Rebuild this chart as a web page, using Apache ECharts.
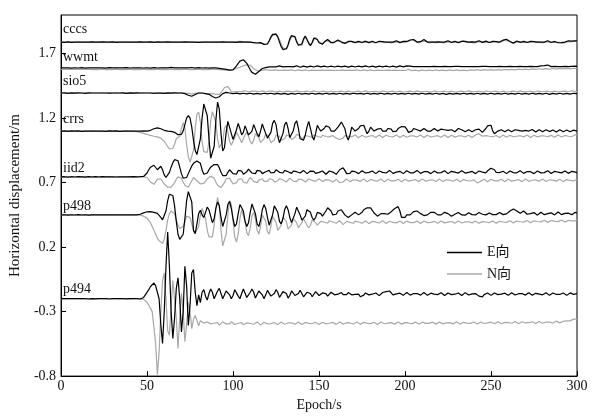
<!DOCTYPE html>
<html><head><meta charset="utf-8">
<script src="https://cdn.jsdelivr.net/npm/echarts@6/dist/echarts.min.js"></script>
<style>html,body{margin:0;padding:0;background:#fff}#c{width:599px;height:417px}</style>
</head><body><div id="c"></div>
<script>
const stationNames = ['cccs','wwmt','sio5','crrs','iid2','p498','p494'];
const legendNames = ['E向','N向'];
const xTicks = [0,50,100,150,200,250,300];
const yTicks = [-0.8,-0.3,0.2,0.7,1.2,1.7];

const cccsE = [
1.79,1.79,1.788,1.79,1.792,1.79,1.788,1.79,1.79,1.792,
1.79,1.788,1.79,1.791,1.79,1.789,1.79,1.79,1.792,1.79,
1.79,1.788,1.79,1.79,1.791,1.79,1.789,1.79,1.79,1.79,
1.791,1.79,1.788,1.79,1.79,1.792,1.79,1.789,1.79,1.79,
1.79,1.791,1.79,1.788,1.79,1.79,1.792,1.79,1.79,1.789,
1.79,1.79,1.792,1.79,1.788,1.79,1.791,1.79,1.79,1.788,
1.79,1.79,1.792,1.79,1.789,1.79,1.79,1.791,1.79,1.788,
1.79,1.79,1.792,1.79,1.79,1.789,1.79,1.791,1.79,1.79,
1.788,1.79,1.79,1.792,1.79,1.79,1.789,1.79,1.79,1.791,
1.79,1.788,1.79,1.79,1.792,1.79,1.789,1.79,1.79,1.791,
1.79,1.79,1.788,1.79,1.792,1.79,1.79,1.789,1.79,1.79,
1.789,1.788,1.786,1.784,1.783,1.782,1.786,1.78,1.772,1.765,
1.775,1.8,1.83,1.85,1.858,1.852,1.83,1.79,1.755,1.732,
1.725,1.738,1.77,1.815,1.84,1.847,1.83,1.79,1.765,1.756,
1.775,1.815,1.837,1.81,1.78,1.763,1.785,1.822,1.832,1.81,
1.785,1.776,1.774,1.79,1.805,1.81,1.8,1.785,1.78,1.79,
1.802,1.806,1.8,1.79,1.783,1.78,1.786,1.795,1.8,1.795,
1.79,1.786,1.79,1.795,1.79,1.787,1.792,1.797,1.79,1.786,
1.792,1.797,1.79,1.785,1.79,1.796,1.8,1.793,1.786,1.79,
1.795,1.79,1.785,1.79,1.797,1.8,1.792,1.786,1.79,1.795,
1.79,1.795,1.8,1.806,1.815,1.81,1.797,1.79,1.785,1.793,
1.803,1.81,1.8,1.79,1.786,1.79,1.795,1.79,1.786,1.792,
1.798,1.79,1.786,1.79,1.796,1.8,1.792,1.787,1.79,1.796,
1.792,1.786,1.79,1.797,1.802,1.795,1.788,1.79,1.796,1.792,
1.786,1.79,1.795,1.8,1.795,1.788,1.79,1.797,1.792,1.787,
1.79,1.796,1.8,1.793,1.787,1.79,1.798,1.805,1.81,1.812,
1.806,1.795,1.786,1.782,1.79,1.798,1.795,1.788,1.79,1.796,
1.792,1.787,1.79,1.795,1.8,1.794,1.788,1.79,1.795,1.79,
1.786,1.79,1.797,1.8,1.793,1.787,1.79,1.795,1.79,1.785,
1.79,1.786,1.782,1.79,1.797,1.8,1.795,1.798,1.802,1.8,
1.8];
const cccsN = [
1.79,1.791,1.79,1.789,1.79,1.79,1.791,1.79,1.789,1.79,
1.791,1.79,1.789,1.79,1.79,1.791,1.79,1.789,1.79,1.79,
1.789,1.79,1.791,1.79,1.79,1.789,1.79,1.791,1.79,1.789,
1.79,1.79,1.791,1.789,1.79,1.79,1.791,1.79,1.789,1.79,
1.79,1.791,1.79,1.79,1.789,1.79,1.79,1.791,1.79,1.79,
1.789,1.79,1.791,1.79,1.79,1.789,1.79,1.791,1.79,1.79,
1.79,1.789,1.79,1.791,1.79,1.79,1.789,1.79,1.79,1.791,
1.79,1.789,1.79,1.79,1.791,1.79,1.789,1.79,1.79,1.791,
1.79,1.79,1.789,1.79,1.791,1.79,1.79,1.789,1.79,1.79,
1.791,1.79,1.789,1.79,1.79,1.791,1.79,1.79,1.789,1.79,
1.79,1.791,1.793,1.795,1.796,1.795,1.794,1.793,1.792,1.79,
1.789,1.787,1.785,1.784,1.783,1.782,1.781,1.78,1.775,1.77,
1.775,1.795,1.82,1.84,1.85,1.852,1.84,1.81,1.775,1.745,
1.73,1.735,1.76,1.8,1.83,1.84,1.835,1.8,1.77,1.758,
1.765,1.8,1.828,1.82,1.79,1.768,1.775,1.81,1.826,1.815,
1.792,1.778,1.775,1.785,1.8,1.806,1.8,1.788,1.78,1.786,
1.796,1.802,1.798,1.79,1.784,1.78,1.784,1.79,1.795,1.792,
1.788,1.785,1.787,1.79,1.788,1.785,1.788,1.792,1.789,1.785,
1.787,1.79,1.786,1.784,1.787,1.791,1.794,1.79,1.785,1.787,
1.79,1.787,1.784,1.787,1.792,1.795,1.79,1.785,1.787,1.791,
1.788,1.79,1.795,1.8,1.808,1.805,1.795,1.787,1.783,1.788,
1.797,1.803,1.796,1.788,1.784,1.787,1.791,1.788,1.784,1.788,
1.793,1.788,1.784,1.787,1.792,1.795,1.79,1.785,1.787,1.792,
1.789,1.784,1.787,1.793,1.797,1.792,1.786,1.787,1.792,1.789,
1.784,1.787,1.792,1.796,1.792,1.786,1.787,1.793,1.789,1.784,
1.787,1.792,1.796,1.79,1.785,1.787,1.794,1.8,1.804,1.806,
1.8,1.791,1.784,1.78,1.786,1.794,1.792,1.786,1.787,1.792,
1.789,1.785,1.787,1.791,1.795,1.791,1.786,1.787,1.791,1.787,
1.784,1.787,1.793,1.796,1.79,1.785,1.787,1.791,1.787,1.783,
1.787,1.784,1.781,1.787,1.793,1.796,1.792,1.794,1.797,1.796,
1.796];
const wwmtE = [
1.59,1.588,1.59,1.592,1.59,1.59,1.588,1.59,1.591,1.59,
1.589,1.59,1.592,1.59,1.588,1.59,1.59,1.591,1.59,1.588,
1.59,1.592,1.59,1.589,1.59,1.59,1.588,1.59,1.592,1.59,
1.59,1.589,1.59,1.591,1.59,1.588,1.59,1.59,1.592,1.59,
1.589,1.59,1.59,1.588,1.59,1.592,1.59,1.59,1.589,1.59,
1.591,1.59,1.588,1.59,1.592,1.59,1.589,1.59,1.59,1.591,
1.59,1.588,1.59,1.592,1.594,1.592,1.59,1.588,1.59,1.591,
1.59,1.592,1.59,1.588,1.59,1.591,1.593,1.59,1.588,1.59,
1.592,1.59,1.589,1.59,1.591,1.59,1.588,1.59,1.59,1.591,
1.59,1.588,1.586,1.584,1.582,1.58,1.578,1.575,1.572,1.57,
1.575,1.588,1.605,1.625,1.642,1.651,1.653,1.645,1.625,1.6,
1.575,1.555,1.543,1.54,1.548,1.562,1.575,1.585,1.59,1.592,
1.595,1.598,1.6,1.598,1.596,1.598,1.602,1.605,1.602,1.598,
1.596,1.6,1.604,1.6,1.596,1.598,1.603,1.606,1.6,1.595,
1.598,1.603,1.6,1.596,1.6,1.604,1.6,1.597,1.6,1.605,
1.602,1.598,1.6,1.604,1.601,1.597,1.6,1.603,1.6,1.597,
1.6,1.604,1.602,1.598,1.6,1.603,1.6,1.596,1.6,1.604,
1.601,1.597,1.6,1.603,1.6,1.598,1.602,1.605,1.601,1.597,
1.6,1.603,1.6,1.596,1.6,1.604,1.601,1.598,1.6,1.603,
1.6,1.597,1.6,1.604,1.6,1.596,1.6,1.605,1.602,1.598,
1.6,1.606,1.61,1.604,1.598,1.6,1.603,1.6,1.596,1.6,
1.604,1.6,1.597,1.6,1.603,1.6,1.598,1.602,1.605,1.6,
1.597,1.6,1.604,1.601,1.597,1.6,1.603,1.6,1.598,1.602,
1.605,1.601,1.597,1.6,1.603,1.6,1.596,1.6,1.604,1.6,
1.597,1.6,1.603,1.6,1.598,1.602,1.605,1.601,1.597,1.6,
1.603,1.6,1.596,1.6,1.604,1.601,1.597,1.6,1.603,1.6,
1.598,1.602,1.605,1.6,1.597,1.6,1.604,1.601,1.597,1.6,
1.603,1.6,1.598,1.602,1.604,1.6,1.597,1.6,1.604,1.606,
1.604,1.607,1.61,1.612,1.606,1.6,1.598,1.602,1.604,1.6,
1.597,1.6,1.603,1.601,1.598,1.6,1.604,1.602,1.6,1.603,
1.602];
const wwmtN = [
1.578,1.577,1.578,1.58,1.578,1.577,1.578,1.579,1.578,1.577,
1.578,1.58,1.579,1.577,1.578,1.578,1.58,1.578,1.576,1.578,
1.579,1.578,1.577,1.578,1.58,1.578,1.577,1.578,1.579,1.578,
1.576,1.578,1.58,1.578,1.577,1.578,1.579,1.578,1.577,1.578,
1.58,1.578,1.576,1.578,1.579,1.578,1.577,1.578,1.58,1.578,
1.577,1.578,1.579,1.578,1.576,1.578,1.58,1.578,1.577,1.578,
1.579,1.578,1.577,1.578,1.58,1.578,1.576,1.578,1.579,1.578,
1.577,1.578,1.58,1.578,1.577,1.578,1.579,1.578,1.576,1.578,
1.58,1.578,1.577,1.578,1.579,1.578,1.577,1.578,1.58,1.578,
1.578,1.577,1.576,1.575,1.574,1.573,1.572,1.572,1.573,1.575,
1.578,1.582,1.586,1.59,1.595,1.6,1.606,1.611,1.614,1.615,
1.61,1.598,1.583,1.572,1.567,1.566,1.568,1.572,1.575,1.576,
1.574,1.571,1.57,1.572,1.575,1.573,1.57,1.568,1.571,1.574,
1.572,1.569,1.57,1.573,1.575,1.572,1.568,1.57,1.574,1.572,
1.569,1.571,1.574,1.572,1.568,1.57,1.573,1.575,1.571,1.568,
1.57,1.574,1.572,1.569,1.571,1.575,1.573,1.569,1.57,1.573,
1.571,1.568,1.57,1.574,1.572,1.569,1.571,1.574,1.572,1.568,
1.57,1.573,1.575,1.571,1.568,1.57,1.574,1.572,1.569,1.571,
1.574,1.572,1.568,1.57,1.573,1.575,1.571,1.568,1.57,1.574,
1.572,1.569,1.571,1.574,1.572,1.568,1.57,1.573,1.571,1.568,
1.57,1.575,1.578,1.573,1.568,1.57,1.573,1.571,1.567,1.57,
1.574,1.571,1.568,1.57,1.573,1.571,1.568,1.571,1.574,1.571,
1.568,1.57,1.573,1.572,1.569,1.571,1.574,1.572,1.569,1.571,
1.574,1.572,1.569,1.571,1.573,1.571,1.568,1.57,1.574,1.572,
1.57,1.573,1.576,1.574,1.571,1.573,1.576,1.574,1.572,1.575,
1.577,1.575,1.572,1.574,1.577,1.575,1.573,1.575,1.578,1.576,
1.574,1.576,1.579,1.577,1.575,1.577,1.58,1.578,1.576,1.578,
1.581,1.579,1.577,1.579,1.582,1.58,1.578,1.58,1.583,1.581,
1.579,1.581,1.584,1.582,1.58,1.582,1.585,1.583,1.581,1.583,
1.586,1.584,1.582,1.584,1.586,1.584,1.582,1.584,1.587,1.585,
1.585];
const sio5E = [
1.395,1.394,1.396,1.395,1.393,1.395,1.396,1.395,1.394,1.395,
1.396,1.394,1.395,1.395,1.393,1.395,1.396,1.394,1.395,1.396,
1.395,1.393,1.395,1.396,1.395,1.394,1.395,1.396,1.394,1.395,
1.395,1.393,1.395,1.396,1.395,1.394,1.396,1.395,1.393,1.395,
1.396,1.395,1.394,1.395,1.396,1.394,1.395,1.393,1.395,1.396,
1.395,1.394,1.395,1.396,1.393,1.395,1.395,1.396,1.394,1.395,
1.393,1.395,1.396,1.395,1.394,1.395,1.396,1.394,1.395,1.395,
1.395,1.393,1.39,1.385,1.378,1.372,1.37,1.375,1.383,1.39,
1.395,1.397,1.395,1.392,1.39,1.388,1.385,1.378,1.368,1.36,
1.356,1.358,1.366,1.378,1.39,1.398,1.4,1.398,1.395,1.392,
1.39,1.392,1.394,1.392,1.389,1.39,1.393,1.391,1.388,1.39,
1.393,1.39,1.387,1.389,1.392,1.39,1.387,1.39,1.393,1.391,
1.388,1.39,1.393,1.39,1.386,1.389,1.392,1.39,1.387,1.39,
1.392,1.388,1.384,1.388,1.392,1.39,1.387,1.39,1.393,1.39,
1.387,1.389,1.392,1.39,1.386,1.389,1.393,1.39,1.387,1.39,
1.392,1.389,1.387,1.39,1.393,1.39,1.386,1.389,1.392,1.39,
1.387,1.39,1.393,1.39,1.387,1.389,1.392,1.39,1.386,1.389,
1.393,1.391,1.388,1.39,1.392,1.389,1.386,1.39,1.393,1.39,
1.387,1.389,1.392,1.39,1.387,1.39,1.393,1.39,1.386,1.389,
1.392,1.39,1.387,1.39,1.393,1.39,1.387,1.389,1.392,1.39,
1.386,1.389,1.393,1.39,1.387,1.39,1.392,1.389,1.386,1.39,
1.393,1.39,1.387,1.389,1.392,1.39,1.387,1.39,1.393,1.39,
1.386,1.389,1.392,1.39,1.384,1.386,1.392,1.39,1.387,1.389,
1.392,1.39,1.386,1.389,1.393,1.39,1.387,1.39,1.392,1.389,
1.386,1.39,1.393,1.39,1.387,1.389,1.392,1.39,1.387,1.39,
1.393,1.39,1.386,1.389,1.392,1.39,1.387,1.39,1.393,1.39,
1.387,1.389,1.392,1.39,1.386,1.389,1.393,1.39,1.387,1.39,
1.392,1.389,1.386,1.39,1.393,1.39,1.387,1.389,1.392,1.39,
1.387,1.39,1.393,1.39,1.384,1.386,1.392,1.39,1.387,1.39,
1.393,1.39,1.387,1.389,1.392,1.39,1.386,1.389,1.393,1.39,
1.39];
const sio5N = [
1.395,1.396,1.395,1.394,1.395,1.396,1.395,1.395,1.394,1.396,
1.395,1.394,1.395,1.396,1.395,1.395,1.394,1.396,1.395,1.394,
1.395,1.396,1.395,1.394,1.396,1.395,1.395,1.394,1.396,1.395,
1.394,1.395,1.396,1.395,1.394,1.395,1.396,1.395,1.394,1.395,
1.396,1.395,1.394,1.395,1.396,1.395,1.394,1.395,1.396,1.394,
1.395,1.396,1.395,1.394,1.395,1.396,1.395,1.394,1.395,1.396,
1.395,1.394,1.395,1.396,1.395,1.394,1.396,1.395,1.394,1.395,
1.396,1.395,1.394,1.393,1.392,1.39,1.389,1.39,1.392,1.394,
1.395,1.394,1.393,1.392,1.39,1.389,1.39,1.391,1.392,1.388,
1.385,1.382,1.385,1.395,1.415,1.438,1.45,1.445,1.425,1.405,
1.4,1.405,1.41,1.407,1.404,1.406,1.41,1.413,1.408,1.404,
1.406,1.41,1.414,1.409,1.404,1.405,1.409,1.412,1.408,1.403,
1.405,1.41,1.415,1.41,1.404,1.402,1.406,1.41,1.407,1.403,
1.405,1.41,1.413,1.408,1.403,1.404,1.408,1.412,1.409,1.404,
1.403,1.407,1.411,1.409,1.404,1.403,1.407,1.412,1.41,1.405,
1.403,1.406,1.41,1.409,1.404,1.402,1.406,1.411,1.409,1.404,
1.403,1.407,1.412,1.41,1.405,1.403,1.406,1.41,1.408,1.403,
1.402,1.406,1.411,1.41,1.405,1.403,1.407,1.412,1.409,1.404,
1.403,1.407,1.41,1.408,1.403,1.402,1.406,1.411,1.41,1.405,
1.403,1.407,1.412,1.409,1.404,1.403,1.407,1.41,1.408,1.403,
1.402,1.406,1.411,1.41,1.405,1.403,1.407,1.412,1.409,1.404,
1.403,1.407,1.41,1.408,1.403,1.402,1.406,1.411,1.41,1.405,
1.403,1.407,1.412,1.409,1.404,1.403,1.407,1.41,1.408,1.403,
1.402,1.406,1.411,1.41,1.405,1.403,1.407,1.412,1.409,1.404,
1.403,1.407,1.41,1.408,1.403,1.402,1.406,1.411,1.41,1.405,
1.403,1.407,1.412,1.409,1.404,1.403,1.407,1.41,1.408,1.403,
1.402,1.406,1.411,1.41,1.405,1.403,1.407,1.412,1.409,1.404,
1.403,1.407,1.41,1.408,1.403,1.402,1.406,1.411,1.41,1.405,
1.403,1.407,1.412,1.409,1.404,1.403,1.407,1.41,1.408,1.403,
1.404,1.408,1.412,1.41,1.406,1.405,1.409,1.413,1.411,1.407,
1.408];
const crrsE = [
1.1,1.099,1.101,1.1,1.098,1.1,1.101,1.1,1.099,1.1,
1.101,1.1,1.098,1.1,1.1,1.101,1.099,1.1,1.1,1.098,
1.1,1.101,1.1,1.099,1.1,1.1,1.098,1.1,1.101,1.1,
1.099,1.1,1.101,1.1,1.098,1.1,1.1,1.101,1.099,1.1,
1.1,1.098,1.1,1.101,1.1,1.099,1.1,1.1,1.101,1.1,
1.1,1.102,1.106,1.112,1.118,1.123,1.125,1.123,1.118,1.112,
1.106,1.102,1.1,1.1,1.098,1.096,1.09,1.08,1.072,1.068,
1.075,1.1,1.15,1.2,1.221,1.2,1.13,1.03,0.95,0.918,
0.93,1.04,1.2,1.31,1.32,1.22,1.04,0.89,0.88,0.98,
1.18,1.325,1.27,1.08,0.945,0.97,1.09,1.175,1.16,1.08,
1.035,1.04,1.11,1.16,1.12,1.07,1.09,1.14,1.13,1.07,
1.055,1.1,1.15,1.14,1.08,1.056,1.1,1.155,1.14,1.08,
1.045,1.03,1.09,1.16,1.183,1.15,1.06,1.01,1.005,1.08,
1.15,1.17,1.12,1.05,1.04,1.1,1.16,1.18,1.12,1.04,
1.04,1.03,1.07,1.13,1.175,1.12,1.06,1.03,1.08,1.145,
1.12,1.1,1.095,1.12,1.14,1.135,1.13,1.1,1.09,1.1,
1.115,1.13,1.15,1.17,1.176,1.12,1.06,1.031,1.07,1.13,
1.125,1.1,1.095,1.12,1.14,1.15,1.145,1.11,1.08,1.1,
1.13,1.125,1.1,1.09,1.115,1.13,1.12,1.1,1.09,1.1,
1.12,1.13,1.115,1.095,1.09,1.1,1.12,1.13,1.135,1.14,
1.133,1.115,1.09,1.085,1.1,1.12,1.125,1.11,1.095,1.1,
1.115,1.12,1.11,1.1,1.09,1.1,1.115,1.12,1.105,1.1,
1.11,1.115,1.12,1.11,1.1,1.105,1.115,1.11,1.1,1.095,
1.105,1.12,1.125,1.11,1.1,1.095,1.105,1.11,1.1,1.095,
1.1,1.11,1.12,1.115,1.1,1.09,1.1,1.12,1.14,1.15,
1.145,1.1,1.08,1.09,1.1,1.105,1.11,1.1,1.095,1.1,
1.11,1.105,1.095,1.1,1.11,1.115,1.105,1.095,1.1,1.11,
1.105,1.095,1.1,1.108,1.112,1.1,1.092,1.1,1.11,1.105,
1.095,1.1,1.11,1.105,1.096,1.1,1.108,1.1,1.092,1.1,
1.11,1.105,1.095,1.1,1.108,1.102,1.095,1.1,1.107,1.1,
1.1];
const crrsN = [
1.1,1.1,1.099,1.1,1.101,1.1,1.099,1.1,1.1,1.101,
1.1,1.099,1.1,1.1,1.101,1.1,1.099,1.1,1.101,1.1,
1.099,1.1,1.1,1.101,1.1,1.099,1.1,1.1,1.101,1.1,
1.1,1.099,1.1,1.101,1.1,1.1,1.099,1.1,1.101,1.1,
1.1,1.099,1.1,1.098,1.096,1.094,1.09,1.086,1.082,1.078,
1.074,1.07,1.066,1.062,1.06,1.058,1.055,1.05,1.045,1.035,
1.02,1.0,0.98,0.962,0.955,0.965,1.0,1.04,1.03,1.06,
1.12,1.165,1.12,1.0,0.9,0.86,0.855,0.95,1.12,1.23,
1.247,1.17,1.02,0.94,0.93,0.935,1.02,1.18,1.25,1.26,
1.17,1.04,0.97,0.966,1.02,1.12,1.145,1.09,1.02,0.99,
1.0,1.05,1.09,1.08,1.04,1.01,1.02,1.07,1.09,1.06,
1.02,1.0,1.03,1.08,1.09,1.05,1.01,1.0,1.04,1.08,
1.085,1.05,1.01,1.0,1.03,1.07,1.08,1.06,1.03,1.02,
1.04,1.07,1.08,1.06,1.035,1.03,1.05,1.075,1.08,1.06,
1.04,1.045,1.065,1.075,1.06,1.045,1.05,1.07,1.075,1.06,
1.045,1.05,1.068,1.072,1.058,1.045,1.055,1.07,1.065,1.05,
1.045,1.04,1.035,1.03,1.045,1.065,1.07,1.06,1.05,1.055,
1.068,1.07,1.058,1.048,1.055,1.068,1.065,1.052,1.05,1.06,
1.07,1.065,1.052,1.05,1.062,1.07,1.06,1.05,1.055,1.068,
1.07,1.058,1.05,1.055,1.066,1.07,1.06,1.05,1.056,1.068,
1.065,1.052,1.05,1.062,1.07,1.063,1.052,1.054,1.066,1.07,
1.06,1.05,1.056,1.068,1.066,1.054,1.05,1.06,1.07,1.064,
1.052,1.052,1.064,1.07,1.06,1.05,1.056,1.068,1.065,1.053,
1.05,1.062,1.07,1.062,1.05,1.055,1.067,1.068,1.056,1.05,
1.06,1.07,1.075,1.08,1.072,1.06,1.055,1.065,1.07,1.06,
1.05,1.056,1.068,1.066,1.054,1.05,1.062,1.07,1.062,1.052,
1.055,1.067,1.068,1.056,1.05,1.06,1.07,1.064,1.053,1.055,
1.066,1.07,1.06,1.05,1.057,1.068,1.066,1.055,1.052,1.063,
1.07,1.062,1.052,1.056,1.068,1.067,1.055,1.052,1.062,1.07,
1.065,1.054,1.055,1.066,1.07,1.06,1.053,1.058,1.068,1.072,
1.07];
const iid2E = [
0.745,0.744,0.746,0.745,0.743,0.745,0.746,0.745,0.744,0.745,
0.746,0.744,0.745,0.745,0.743,0.745,0.747,0.745,0.744,0.745,
0.746,0.745,0.744,0.745,0.746,0.744,0.745,0.747,0.745,0.744,
0.745,0.746,0.744,0.745,0.745,0.743,0.745,0.746,0.745,0.744,
0.745,0.744,0.746,0.745,0.745,0.744,0.746,0.745,0.748,0.755,
0.775,0.8,0.82,0.83,0.835,0.82,0.8,0.81,0.827,0.8,
0.76,0.74,0.745,0.78,0.82,0.855,0.878,0.885,0.87,0.82,
0.77,0.735,0.725,0.74,0.77,0.8,0.83,0.85,0.86,0.868,
0.87,0.85,0.8,0.765,0.759,0.775,0.8,0.82,0.83,0.84,
0.845,0.84,0.815,0.78,0.755,0.745,0.755,0.78,0.8,0.79,
0.77,0.755,0.765,0.795,0.81,0.79,0.765,0.76,0.785,0.805,
0.8,0.775,0.76,0.77,0.795,0.805,0.79,0.77,0.765,0.785,
0.8,0.795,0.775,0.765,0.78,0.8,0.8,0.78,0.768,0.775,
0.795,0.8,0.785,0.77,0.772,0.79,0.798,0.785,0.772,0.775,
0.79,0.795,0.782,0.77,0.775,0.79,0.8,0.788,0.772,0.768,
0.78,0.795,0.79,0.775,0.765,0.775,0.79,0.795,0.782,0.768,
0.765,0.78,0.8,0.812,0.815,0.795,0.77,0.76,0.772,0.79,
0.795,0.785,0.772,0.77,0.782,0.792,0.788,0.775,0.77,0.78,
0.792,0.79,0.778,0.77,0.778,0.79,0.792,0.78,0.77,0.775,
0.788,0.795,0.785,0.772,0.77,0.782,0.792,0.788,0.775,0.77,
0.78,0.792,0.79,0.776,0.768,0.776,0.79,0.795,0.784,0.772,
0.772,0.785,0.792,0.786,0.774,0.77,0.78,0.79,0.788,0.776,
0.77,0.778,0.79,0.792,0.78,0.77,0.775,0.788,0.792,0.782,
0.772,0.774,0.786,0.792,0.785,0.774,0.77,0.78,0.79,0.787,
0.775,0.77,0.778,0.79,0.792,0.782,0.772,0.776,0.792,0.805,
0.812,0.815,0.8,0.78,0.77,0.778,0.79,0.788,0.776,0.77,
0.778,0.79,0.79,0.778,0.77,0.776,0.788,0.792,0.782,0.772,
0.774,0.786,0.792,0.785,0.774,0.77,0.78,0.79,0.787,0.776,
0.77,0.778,0.79,0.792,0.78,0.771,0.776,0.788,0.791,0.781,
0.772,0.776,0.788,0.79,0.78,0.772,0.777,0.788,0.79,0.782,
0.778];
const iid2N = [
0.745,0.746,0.745,0.744,0.745,0.746,0.745,0.745,0.744,0.746,
0.745,0.744,0.746,0.745,0.745,0.744,0.745,0.746,0.745,0.744,
0.745,0.746,0.745,0.744,0.746,0.745,0.745,0.744,0.746,0.745,
0.744,0.745,0.746,0.745,0.744,0.745,0.746,0.745,0.744,0.745,
0.746,0.745,0.744,0.745,0.746,0.745,0.744,0.745,0.746,0.744,
0.74,0.725,0.705,0.69,0.687,0.7,0.725,0.74,0.73,0.71,
0.69,0.675,0.665,0.662,0.665,0.68,0.7,0.725,0.745,0.75,
0.735,0.705,0.68,0.667,0.665,0.68,0.715,0.74,0.735,0.715,
0.7,0.69,0.687,0.695,0.71,0.73,0.745,0.75,0.75,0.735,
0.705,0.68,0.665,0.662,0.67,0.7,0.73,0.745,0.735,0.71,
0.69,0.685,0.7,0.725,0.74,0.73,0.705,0.69,0.695,0.72,
0.74,0.735,0.71,0.695,0.7,0.72,0.735,0.73,0.71,0.7,
0.71,0.73,0.738,0.725,0.705,0.7,0.715,0.732,0.735,0.72,
0.705,0.705,0.72,0.735,0.73,0.712,0.7,0.708,0.725,0.732,
0.725,0.71,0.705,0.715,0.728,0.73,0.718,0.706,0.71,0.725,
0.73,0.72,0.708,0.71,0.724,0.73,0.72,0.707,0.705,0.718,
0.725,0.712,0.7,0.695,0.705,0.72,0.728,0.72,0.708,0.71,
0.722,0.73,0.72,0.708,0.71,0.724,0.728,0.716,0.706,0.712,
0.725,0.728,0.716,0.706,0.712,0.725,0.728,0.715,0.706,0.714,
0.726,0.727,0.714,0.706,0.714,0.726,0.726,0.713,0.707,0.716,
0.727,0.725,0.712,0.707,0.717,0.727,0.724,0.711,0.708,0.718,
0.728,0.723,0.71,0.708,0.719,0.728,0.722,0.709,0.709,0.72,
0.728,0.72,0.708,0.71,0.722,0.728,0.719,0.708,0.711,0.723,
0.727,0.717,0.707,0.712,0.724,0.727,0.716,0.706,0.713,0.725,
0.722,0.708,0.698,0.7,0.712,0.725,0.726,0.715,0.707,0.714,
0.726,0.726,0.714,0.706,0.714,0.726,0.726,0.713,0.707,0.716,
0.727,0.725,0.712,0.707,0.717,0.727,0.724,0.711,0.708,0.718,
0.728,0.723,0.71,0.708,0.719,0.728,0.722,0.71,0.71,0.72,
0.728,0.72,0.709,0.711,0.722,0.728,0.719,0.709,0.712,0.723,
0.727,0.718,0.708,0.713,0.724,0.727,0.717,0.708,0.714,0.725,
0.724];
const p498E = [
0.45,0.449,0.451,0.45,0.448,0.45,0.451,0.45,0.449,0.45,
0.452,0.45,0.449,0.45,0.451,0.45,0.448,0.45,0.45,0.451,
0.45,0.449,0.45,0.452,0.45,0.449,0.45,0.451,0.45,0.448,
0.45,0.451,0.45,0.449,0.45,0.452,0.45,0.449,0.45,0.451,
0.45,0.449,0.451,0.45,0.45,0.452,0.455,0.46,0.466,0.47,
0.474,0.476,0.475,0.472,0.47,0.468,0.462,0.45,0.43,0.412,
0.42,0.48,0.56,0.61,0.624,0.6,0.52,0.4,0.3,0.26,
0.255,0.3,0.42,0.56,0.63,0.64,0.55,0.33,0.305,0.38,
0.46,0.486,0.45,0.43,0.47,0.51,0.49,0.44,0.39,0.42,
0.5,0.55,0.52,0.43,0.36,0.37,0.45,0.53,0.555,0.5,
0.42,0.36,0.38,0.46,0.53,0.54,0.48,0.4,0.36,0.39,
0.47,0.535,0.53,0.46,0.38,0.36,0.41,0.49,0.53,0.5,
0.43,0.37,0.38,0.45,0.52,0.525,0.47,0.4,0.38,0.42,
0.49,0.52,0.49,0.43,0.39,0.4,0.46,0.51,0.5,0.45,
0.41,0.4,0.44,0.49,0.5,0.47,0.43,0.41,0.43,0.47,
0.48,0.46,0.44,0.45,0.48,0.505,0.51,0.48,0.45,0.44,
0.455,0.48,0.495,0.49,0.47,0.45,0.44,0.43,0.435,0.45,
0.465,0.47,0.46,0.45,0.455,0.47,0.49,0.5,0.505,0.5,
0.505,0.49,0.465,0.45,0.44,0.45,0.46,0.465,0.46,0.452,
0.455,0.465,0.475,0.485,0.5,0.51,0.514,0.48,0.43,0.42,
0.43,0.45,0.455,0.45,0.46,0.475,0.485,0.48,0.47,0.46,
0.45,0.445,0.44,0.45,0.46,0.47,0.475,0.47,0.46,0.45,
0.445,0.45,0.46,0.47,0.468,0.46,0.45,0.44,0.442,0.455,
0.465,0.468,0.46,0.45,0.444,0.448,0.458,0.466,0.462,0.452,
0.445,0.45,0.46,0.468,0.465,0.455,0.447,0.45,0.46,0.465,
0.46,0.452,0.447,0.452,0.462,0.468,0.462,0.452,0.45,0.458,
0.468,0.48,0.49,0.495,0.492,0.48,0.47,0.462,0.47,0.48,
0.47,0.455,0.45,0.46,0.472,0.468,0.455,0.448,0.458,0.47,
0.465,0.452,0.448,0.46,0.472,0.466,0.452,0.45,0.462,0.472,
0.465,0.452,0.45,0.462,0.47,0.463,0.452,0.452,0.463,0.47,
0.465];
const p498N = [
0.45,0.451,0.45,0.449,0.45,0.451,0.45,0.45,0.449,0.451,
0.45,0.449,0.45,0.451,0.45,0.45,0.449,0.451,0.45,0.449,
0.45,0.451,0.45,0.449,0.451,0.45,0.45,0.449,0.451,0.45,
0.449,0.45,0.451,0.45,0.449,0.45,0.451,0.45,0.449,0.45,
0.45,0.451,0.45,0.449,0.45,0.45,0.448,0.445,0.44,0.435,
0.425,0.41,0.39,0.36,0.33,0.3,0.27,0.25,0.235,0.229,
0.26,0.33,0.41,0.46,0.48,0.486,0.46,0.41,0.37,0.345,
0.343,0.36,0.4,0.44,0.45,0.43,0.38,0.33,0.31,0.305,
0.36,0.45,0.5,0.49,0.42,0.33,0.28,0.267,0.28,0.37,
0.5,0.585,0.52,0.33,0.21,0.204,0.3,0.45,0.56,0.53,
0.4,0.28,0.24,0.3,0.42,0.49,0.48,0.4,0.31,0.29,
0.35,0.44,0.47,0.42,0.33,0.3,0.36,0.45,0.46,0.4,
0.32,0.3,0.36,0.44,0.45,0.39,0.33,0.32,0.37,0.43,
0.44,0.4,0.34,0.33,0.37,0.42,0.43,0.39,0.35,0.35,
0.39,0.42,0.41,0.37,0.35,0.37,0.41,0.42,0.39,0.37,
0.375,0.4,0.41,0.395,0.38,0.385,0.405,0.41,0.395,0.38,
0.385,0.4,0.405,0.39,0.375,0.38,0.4,0.405,0.392,0.38,
0.385,0.402,0.408,0.395,0.382,0.386,0.4,0.405,0.393,0.382,
0.386,0.4,0.405,0.394,0.383,0.387,0.4,0.404,0.393,0.383,
0.388,0.401,0.404,0.392,0.383,0.388,0.401,0.403,0.391,0.383,
0.389,0.402,0.403,0.39,0.383,0.39,0.402,0.402,0.39,0.384,
0.391,0.402,0.401,0.389,0.384,0.392,0.402,0.4,0.388,0.385,
0.393,0.403,0.4,0.388,0.386,0.394,0.403,0.399,0.387,0.386,
0.395,0.403,0.398,0.387,0.387,0.396,0.403,0.397,0.386,0.388,
0.397,0.403,0.396,0.386,0.389,0.398,0.403,0.395,0.386,0.39,
0.399,0.403,0.394,0.386,0.391,0.4,0.404,0.395,0.387,0.392,
0.401,0.405,0.396,0.388,0.393,0.402,0.406,0.397,0.389,0.394,
0.403,0.407,0.398,0.39,0.395,0.404,0.408,0.399,0.391,0.396,
0.405,0.409,0.4,0.392,0.397,0.406,0.41,0.401,0.393,0.398,
0.407,0.411,0.402,0.394,0.399,0.408,0.412,0.404,0.398,0.404,
0.41];
const p494E = [
-0.2,-0.201,-0.199,-0.2,-0.2,-0.202,-0.2,-0.199,-0.2,-0.201,
-0.2,-0.2,-0.199,-0.201,-0.2,-0.2,-0.202,-0.2,-0.199,-0.2,
-0.201,-0.2,-0.2,-0.199,-0.2,-0.201,-0.2,-0.2,-0.202,-0.2,
-0.199,-0.2,-0.2,-0.201,-0.2,-0.199,-0.2,-0.2,-0.201,-0.2,
-0.2,-0.199,-0.2,-0.201,-0.2,-0.2,-0.202,-0.2,-0.19,-0.17,
-0.155,-0.13,-0.105,-0.09,-0.078,-0.1,-0.115,-0.2,-0.4,-0.547,
-0.3,0.05,0.318,0.05,-0.3,-0.508,-0.35,-0.12,-0.038,-0.2,
-0.458,-0.3,0.051,-0.1,-0.407,-0.25,0.0,0.026,-0.15,-0.254,
-0.17,-0.23,-0.15,-0.13,-0.18,-0.21,-0.16,-0.125,-0.15,-0.2,
-0.19,-0.14,-0.12,-0.16,-0.2,-0.19,-0.14,-0.125,-0.17,-0.2,
-0.175,-0.13,-0.13,-0.18,-0.2,-0.16,-0.125,-0.14,-0.19,-0.195,
-0.15,-0.125,-0.15,-0.195,-0.185,-0.14,-0.13,-0.17,-0.2,-0.17,
-0.135,-0.14,-0.18,-0.195,-0.16,-0.13,-0.15,-0.19,-0.185,-0.145,
-0.13,-0.16,-0.195,-0.175,-0.14,-0.14,-0.175,-0.19,-0.16,-0.135,
-0.15,-0.185,-0.18,-0.15,-0.14,-0.16,-0.185,-0.17,-0.145,-0.15,
-0.175,-0.18,-0.155,-0.145,-0.16,-0.18,-0.17,-0.15,-0.15,-0.17,
-0.178,-0.165,-0.15,-0.152,-0.168,-0.178,-0.168,-0.152,-0.155,-0.17,
-0.178,-0.166,-0.155,-0.165,-0.185,-0.19,-0.172,-0.155,-0.158,-0.17,
-0.175,-0.165,-0.153,-0.156,-0.17,-0.176,-0.164,-0.152,-0.148,-0.145,
-0.142,-0.14,-0.155,-0.17,-0.175,-0.163,-0.152,-0.157,-0.171,-0.174,
-0.162,-0.152,-0.158,-0.172,-0.173,-0.16,-0.152,-0.16,-0.173,-0.172,
-0.158,-0.152,-0.162,-0.174,-0.17,-0.157,-0.153,-0.164,-0.174,-0.168,
-0.156,-0.154,-0.166,-0.175,-0.167,-0.155,-0.155,-0.168,-0.175,-0.165,
-0.154,-0.156,-0.17,-0.175,-0.163,-0.153,-0.158,-0.171,-0.174,-0.162,
-0.153,-0.16,-0.173,-0.18,-0.19,-0.185,-0.168,-0.155,-0.155,-0.168,
-0.174,-0.165,-0.155,-0.156,-0.168,-0.174,-0.164,-0.154,-0.157,-0.17,
-0.174,-0.162,-0.153,-0.158,-0.171,-0.173,-0.161,-0.153,-0.16,-0.172,
-0.172,-0.159,-0.153,-0.162,-0.173,-0.171,-0.158,-0.154,-0.164,-0.174,
-0.17,-0.157,-0.154,-0.165,-0.174,-0.168,-0.156,-0.155,-0.167,-0.174,
-0.167,-0.155,-0.156,-0.168,-0.174,-0.165,-0.155,-0.157,-0.166,-0.162,
-0.16];
const p494N = [
-0.2,-0.2,-0.201,-0.2,-0.199,-0.2,-0.2,-0.201,-0.2,-0.2,
-0.199,-0.2,-0.201,-0.2,-0.2,-0.199,-0.2,-0.2,-0.201,-0.2,
-0.2,-0.199,-0.2,-0.201,-0.2,-0.2,-0.199,-0.2,-0.2,-0.201,
-0.2,-0.199,-0.2,-0.2,-0.201,-0.2,-0.2,-0.199,-0.2,-0.2,
-0.201,-0.2,-0.2,-0.199,-0.2,-0.2,-0.201,-0.2,-0.205,-0.215,
-0.229,-0.25,-0.275,-0.3,-0.31,-0.55,-0.79,-0.62,-0.3,-0.06,
0.0,-0.2,-0.45,-0.483,-0.25,-0.06,-0.05,-0.35,-0.585,-0.35,
-0.16,-0.3,-0.534,-0.4,-0.229,-0.3,-0.432,-0.36,-0.33,-0.37,
-0.41,-0.37,-0.36,-0.39,-0.405,-0.38,-0.37,-0.395,-0.41,-0.39,
-0.375,-0.385,-0.405,-0.4,-0.38,-0.375,-0.395,-0.41,-0.395,-0.378,
-0.38,-0.4,-0.405,-0.39,-0.378,-0.385,-0.402,-0.403,-0.388,-0.38,
-0.392,-0.404,-0.398,-0.385,-0.38,-0.392,-0.403,-0.396,-0.383,-0.382,
-0.395,-0.402,-0.393,-0.382,-0.384,-0.397,-0.401,-0.39,-0.381,-0.386,
-0.398,-0.4,-0.388,-0.38,-0.387,-0.399,-0.398,-0.386,-0.38,-0.389,
-0.4,-0.396,-0.384,-0.381,-0.391,-0.4,-0.394,-0.383,-0.382,-0.393,
-0.4,-0.392,-0.382,-0.383,-0.395,-0.4,-0.39,-0.381,-0.384,-0.396,
-0.399,-0.388,-0.38,-0.386,-0.397,-0.398,-0.386,-0.38,-0.388,-0.398,
-0.396,-0.385,-0.38,-0.389,-0.399,-0.395,-0.383,-0.381,-0.391,-0.399,
-0.393,-0.382,-0.382,-0.393,-0.399,-0.391,-0.381,-0.383,-0.394,-0.398,
-0.389,-0.38,-0.385,-0.396,-0.397,-0.387,-0.38,-0.386,-0.397,-0.396,
-0.385,-0.38,-0.388,-0.398,-0.395,-0.384,-0.38,-0.39,-0.398,-0.393,
-0.382,-0.381,-0.391,-0.398,-0.391,-0.381,-0.382,-0.393,-0.397,-0.389,
-0.38,-0.384,-0.395,-0.396,-0.387,-0.379,-0.385,-0.396,-0.395,-0.385,
-0.379,-0.387,-0.397,-0.393,-0.383,-0.379,-0.389,-0.397,-0.391,-0.381,
-0.38,-0.391,-0.396,-0.389,-0.38,-0.381,-0.392,-0.395,-0.387,-0.378,
-0.382,-0.393,-0.394,-0.385,-0.378,-0.384,-0.394,-0.392,-0.383,-0.377,
-0.385,-0.394,-0.39,-0.381,-0.377,-0.387,-0.394,-0.388,-0.379,-0.378,
-0.388,-0.393,-0.386,-0.377,-0.379,-0.389,-0.392,-0.384,-0.376,-0.38,
-0.39,-0.391,-0.382,-0.375,-0.381,-0.39,-0.389,-0.38,-0.374,-0.38,
-0.387,-0.384,-0.375,-0.368,-0.372,-0.378,-0.372,-0.363,-0.358,-0.362,
-0.358];

const eastSeries = [cccsE, wwmtE, sio5E, crrsE, iid2E, p498E, p494E];
const northSeries = [cccsN, wwmtN, sio5N, crrsN, iid2N, p498N, p494N];

// station label placement (pixels)
const labelY = [30, 58.5, 82, 120, 169, 207.5, 290];

const FONT = "'Liberation Serif', 'Times New Roman', 'Noto Sans CJK SC', serif";
const toPairs = arr => arr.map((v, i) => [i, v]);

const series = [];
northSeries.forEach(arr => series.push({
  name: legendNames[1], type: 'line', data: toPairs(arr), showSymbol: false, symbol: 'none',
  lineStyle: { color: '#a8a8a8', width: 1.2 }, itemStyle: { color: '#a8a8a8' }, silent: true
}));
eastSeries.forEach(arr => series.push({
  name: legendNames[0], type: 'line', data: toPairs(arr), showSymbol: false, symbol: 'none',
  lineStyle: { color: '#000', width: 1.2 }, itemStyle: { color: '#000' }, silent: true
}));

const chart = echarts.init(document.getElementById('c'), null, { renderer: 'canvas' });
chart.setOption({
  animation: false,
  backgroundColor: '#fff',
  textStyle: { fontFamily: FONT },
  grid: { left: 57, right: 22, top: 15, bottom: 35.5, show: true, borderColor: '#000', borderWidth: 1, backgroundColor: 'transparent' },
  legend: {
    data: [
      { name: legendNames[0], icon: 'rect', itemStyle: { color: '#000' } },
      { name: legendNames[1], icon: 'rect', itemStyle: { color: '#a8a8a8' } }
    ],
    orient: 'vertical', left: 447, top: 245.5, itemWidth: 35, itemHeight: 1.5, itemGap: 7.5,
    textStyle: { fontFamily: FONT, fontSize: 14, color: '#111' },
    padding: 0, selectedMode: false
  },
  xAxis: {
    type: 'value', min: xTicks[0], max: xTicks[xTicks.length - 1], interval: 50,
    name: 'Epoch/s', nameLocation: 'middle', nameGap: 17,
    nameTextStyle: { fontFamily: FONT, fontSize: 14, color: '#111' },
    axisLine: { onZero: false, lineStyle: { color: '#000', width: 1 } },
    axisTick: { inside: true, length: 5, lineStyle: { color: '#000' } },
    axisLabel: { fontFamily: FONT, fontSize: 14, color: '#111', margin: 3 },
    splitLine: { show: false }
  },
  yAxis: {
    type: 'value', min: yTicks[0], max: 2.0, interval: 0.5,
    name: 'Horizontal displacement/m', nameLocation: 'middle', nameGap: 36,
    nameTextStyle: { fontFamily: FONT, fontSize: 15, color: '#111' },
    axisLine: { show: true, onZero: false, lineStyle: { color: '#000', width: 1 } },
    axisTick: { show: true, inside: true, length: 5, lineStyle: { color: '#000' } },
    axisLabel: { fontFamily: FONT, fontSize: 14, color: '#111', margin: 5, showMaxLabel: false,
      formatter: v => (Math.abs(v - 2.0) < 1e-9 ? '' : String(Math.round(v * 10) / 10)) },
    splitLine: { show: false }
  },
  graphic: stationNames.map((s, i) => ({
    type: 'text', left: 63, top: labelY[i] - 8, silent: true,
    style: { text: s, font: "14px " + FONT, fill: '#111' }
  })),
  series: series
});
</script>
</body></html>
